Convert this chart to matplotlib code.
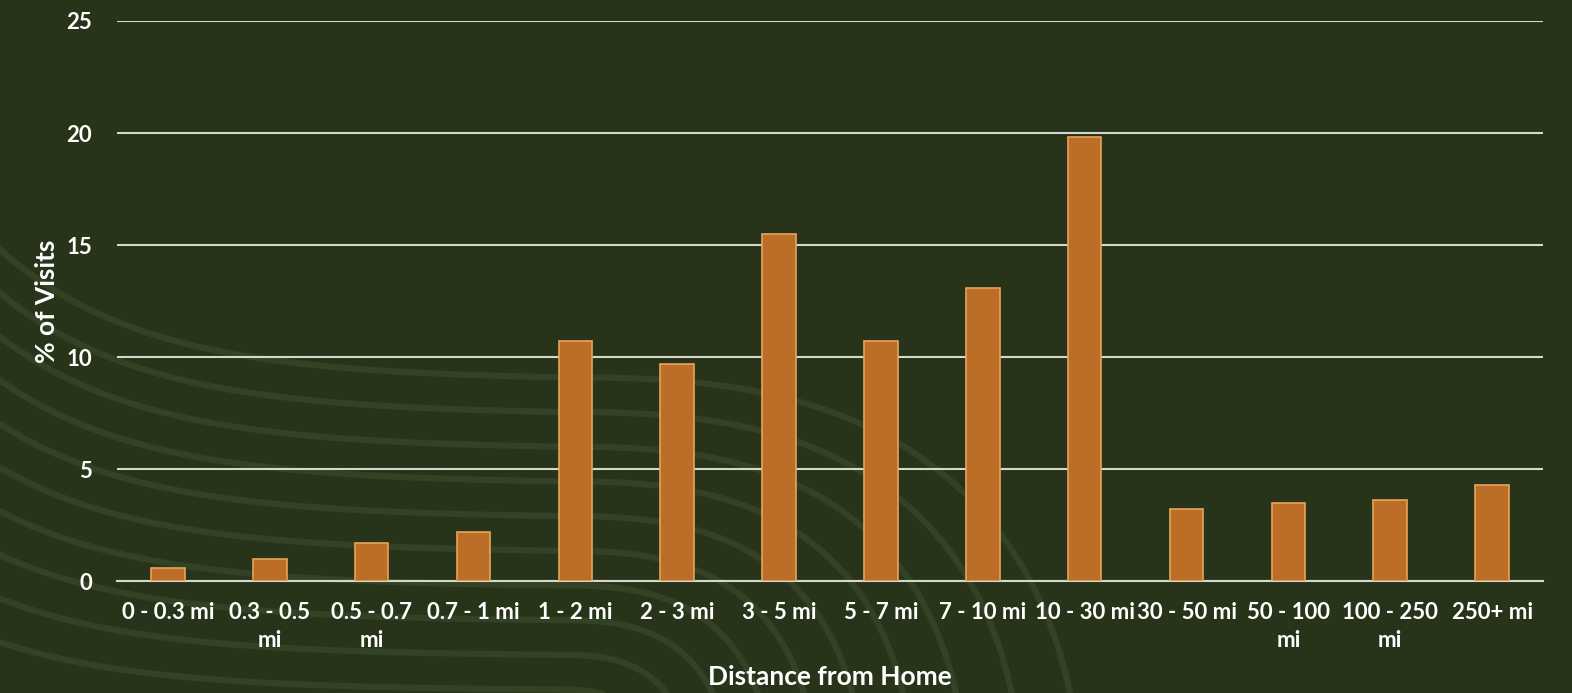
import numpy as np
import matplotlib.pyplot as plt

plt.rcParams['font.family'] = ['Lato', 'DejaVu Sans']

categories = ['0 - 0.3 mi', '0.3 - 0.5\nmi', '0.5 - 0.7\nmi', '0.7 - 1 mi', '1 - 2 mi',
              '2 - 3 mi', '3 - 5 mi', '5 - 7 mi', '7 - 10 mi', '10 - 30 mi',
              '30 - 50 mi', '50 - 100\nmi', '100 - 250\nmi', '250+ mi']
visits = [0.6, 1.0, 1.7, 2.2, 10.7, 9.7, 15.5, 10.7, 13.1, 19.8, 3.2, 3.5, 3.6, 4.3]
yticks = [0, 5, 10, 15, 20, 25]

bg = '#283419'
bar_color = '#bc6e27'
edge_color = '#e6a45c'
grid_color = '#d4d6cf'

fig = plt.figure(figsize=(15.72, 6.93), dpi=100, facecolor=bg)

# faint contour lines in the background
deco = fig.add_axes([0, 0, 1, 1], zorder=0)
deco.set_xlim(0, 1572)
deco.set_ylim(693, 0)
deco.axis('off')
t = np.linspace(0, 1, 300)
s = np.linspace(0, 4, 200)
for k in range(10):
    off = k * 45
    x = np.concatenate([np.linspace(-20, 560, 200), 560 + 520 * np.sin(t * np.pi / 2)])
    y_left = 230 + off + 150 * (1 - np.exp(-s)) * (1 - k * 0.07)
    y_right = y_left[-1] + 420 * (1 - np.cos(t * np.pi / 2)) ** 1.3
    y = np.concatenate([y_left, y_right])
    x = x - k * 60 * np.concatenate([np.zeros(200), t])
    deco.plot(x, y, color='#334124', lw=4.5, solid_capstyle='round')

ax = fig.add_axes([0.0744, 0.1616, 0.9072, 0.8081], zorder=1)
ax.patch.set_alpha(0)
pos = np.arange(len(categories))
ax.bar(pos, visits, width=0.33, color=bar_color, edgecolor=edge_color, linewidth=1.2, zorder=3)

ax.set_xlim(-0.5, len(categories) - 0.5)
ax.set_ylim(0, 25)
ax.set_yticks(yticks)
ax.set_yticklabels([str(v) for v in yticks])
ax.set_xticks(pos)
ax.set_xticklabels(categories, linespacing=1.45)
ax.yaxis.grid(True, color=grid_color, linewidth=1.5, zorder=1)
ax.set_axisbelow(True)
for sp in ['top', 'right', 'left']:
    ax.spines[sp].set_visible(False)
ax.spines['bottom'].set_color(grid_color)
ax.spines['bottom'].set_linewidth(1.5)
ax.tick_params(axis='both', length=0, colors='white', labelsize=16)
ax.tick_params(axis='y', pad=18)
ax.tick_params(axis='x', pad=15)
for lbl in ax.get_xticklabels() + ax.get_yticklabels():
    lbl.set_fontweight('bold')
    lbl.set_color('white')

ax.set_xlabel('Distance from Home', fontsize=19, fontweight='bold', color='white', labelpad=10)
ax.set_ylabel('% of Visits', fontsize=19, fontweight='bold', color='white', labelpad=5)

fig.savefig('out.png', dpi=100, facecolor=bg)
